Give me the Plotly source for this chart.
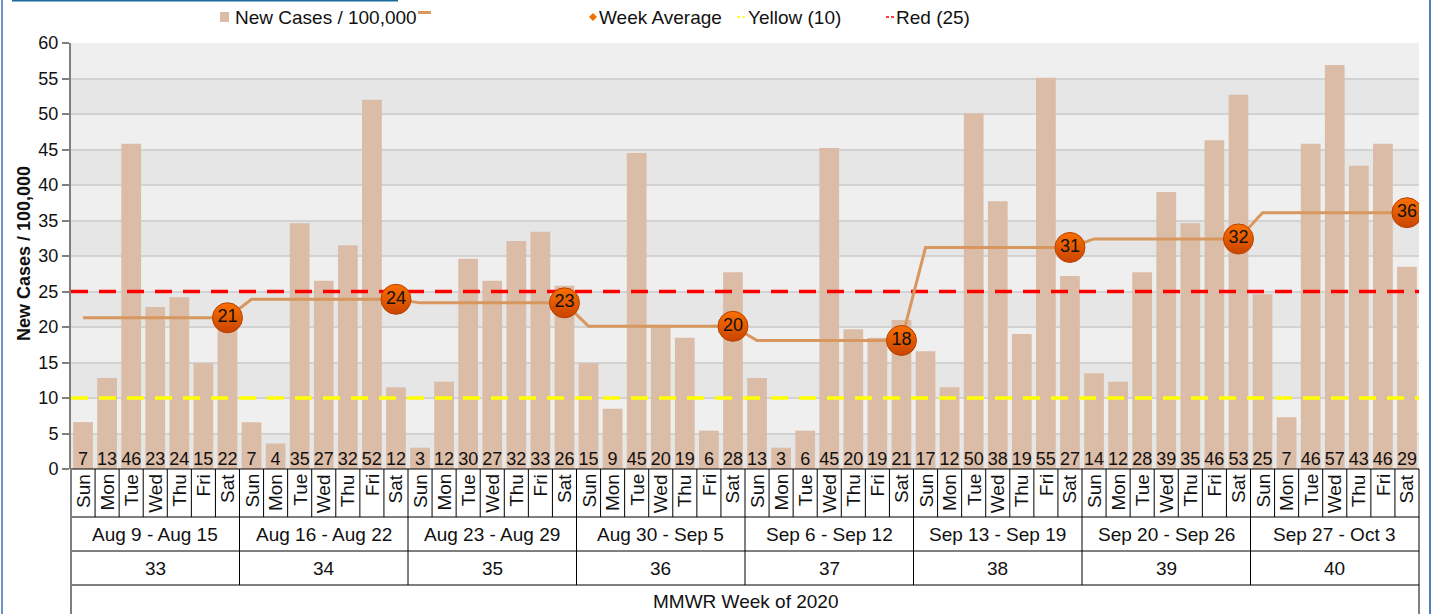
import plotly.graph_objects as go

# ---------------- data ----------------
days = ["Sun", "Mon", "Tue", "Wed", "Thu", "Fri", "Sat"]
week_ranges = ["Aug 9 - Aug 15", "Aug 16 - Aug 22", "Aug 23 - Aug 29", "Aug 30 - Sep 5",
               "Sep 6 - Sep 12", "Sep 13 - Sep 19", "Sep 20 - Sep 26", "Sep 27 - Oct 3"]
week_numbers = ["33", "34", "35", "36", "37", "38", "39", "40"]

new_cases = [
    6.6, 12.8, 45.8, 22.8, 24.2, 14.9, 21.8,
    6.6, 3.6, 34.6, 26.5, 31.5, 52.0, 11.5,
    3.0, 12.3, 29.6, 26.5, 32.1, 33.4, 25.8,
    14.9, 8.5, 44.5, 20.0, 18.5, 5.4, 27.7,
    12.8, 3.0, 5.4, 45.2, 19.7, 18.5, 21.0,
    16.6, 11.5, 50.1, 37.7, 19.0, 55.1, 27.2,
    13.5, 12.3, 27.7, 39.0, 34.6, 46.3, 52.7,
    24.6, 7.3, 45.8, 56.9, 42.7, 45.8, 28.5,
]
new_case_labels = [
    "7", "13", "46", "23", "24", "15", "22",
    "7", "4", "35", "27", "32", "52", "12",
    "3", "12", "30", "27", "32", "33", "26",
    "15", "9", "45", "20", "19", "6", "28",
    "13", "3", "6", "45", "20", "19", "21",
    "17", "12", "50", "38", "19", "55", "27",
    "14", "12", "28", "39", "35", "46", "53",
    "25", "7", "46", "57", "43", "46", "29",
]
week_avg = [21.3, 23.9, 23.4, 20.1, 18.1, 31.2, 32.4, 36.1]
week_avg_labels = ["21", "24", "23", "20", "18", "31", "32", "36"]
YELLOW_LEVEL = 10
RED_LEVEL = 25

# ---------------- layout geometry ----------------
W, H = 1432, 614
ML, MR, MT, MB = 71, 13, 43, 145
PW, PH = W - ML - MR, H - MT - MB


def px(xp):
    return (xp - ML) / PW


def py(yp):
    return (MT + PH - yp) / PH


FONT = "Liberation Sans, Arial, sans-serif"
TXT = 19
NUM = 18
n = len(new_cases)
xs = list(range(n))
day_of = [days[i % 7] for i in xs]

avg_y = [week_avg[i // 7] for i in xs]
is_sat = [d == "Sat" for d in day_of]
avg_text = [week_avg_labels[i // 7] if is_sat[i] else "" for i in xs]
avg_size = [30 if s else 0 for s in is_sat]
avg_line_w = [1 if s else 0 for s in is_sat]

fig = go.Figure()
fig.add_trace(go.Bar(x=xs, y=new_cases, marker=dict(color="#dbbca7", line=dict(width=0)),
                     name="New Cases / 100,000", showlegend=False, hoverinfo="y"))
fig.add_trace(go.Scatter(x=xs, y=[0] * n, mode="text", text=new_case_labels,
                         textposition="top center", textfont=dict(size=NUM, color="#111", family=FONT),
                         showlegend=False, hoverinfo="skip"))
fig.add_trace(go.Scatter(x=[-0.5, n - 0.5], y=[YELLOW_LEVEL, YELLOW_LEVEL], mode="lines",
                         line=dict(color="#ffff00", width=3.5, dash="17px,11px"),
                         name="Yellow (10)", showlegend=False, hoverinfo="skip"))
fig.add_trace(go.Scatter(x=[-0.5, n - 0.5], y=[RED_LEVEL, RED_LEVEL], mode="lines",
                         line=dict(color="#ff0000", width=3.5, dash="17px,11px"),
                         name="Red (25)", showlegend=False, hoverinfo="skip"))
fig.add_trace(go.Scatter(x=xs, y=avg_y, mode="lines+markers+text", text=avg_text,
                         textposition="middle center",
                         textfont=dict(size=NUM, color="#111", family=FONT),
                         line=dict(color="#d8975e", width=3),
                         marker=dict(size=avg_size, color="#fb7000", opacity=1,
                                     gradient=dict(type="vertical", color="#c94400"),
                                     line=dict(width=avg_line_w, color="#b84000")),
                         name="Week Average", showlegend=False, hoverinfo="y"))

shapes = []
# alternating background bands
for k in range(0, 60, 5):
    dark = (k // 5) % 2 == 0
    shapes.append(dict(type="rect", xref="paper", yref="y", x0=0, x1=1, y0=k, y1=k + 5,
                       fillcolor="#e6e6e6" if dark else "#efefef", line=dict(width=0),
                       layer="below"))

LINE_BLACK = dict(color="#000000", width=1)
y_day = py(517)
y_range = py(551)
y_week = py(585)
y_bottom = py(H + 5)
# horizontal table lines
for yy in (py(469), y_day, y_range, y_week):
    shapes.append(dict(type="line", xref="paper", yref="paper", x0=0, x1=1, y0=yy, y1=yy,
                       line=LINE_BLACK, layer="above"))
# day and week separators
for i in range(1, n):
    bot = y_week if i % 7 == 0 else y_day
    xe = i - 0.5
    shapes.append(dict(type="line", xref="x", yref="paper", x0=xe, x1=xe, y0=py(469), y1=bot,
                       line=LINE_BLACK, layer="above"))
# outer borders of the table
shapes.append(dict(type="line", xref="paper", yref="paper", x0=0, x1=0, y0=py(469), y1=y_bottom,
                   line=dict(color="#7f7f7f", width=2)))
shapes.append(dict(type="line", xref="paper", yref="paper", x0=1, x1=1, y0=py(469), y1=y_bottom,
                   line=LINE_BLACK))
# page frame decorations
shapes.append(dict(type="line", xref="paper", yref="paper", x0=px(12), x1=px(398), y0=py(0.5), y1=py(0.5),
                   line=dict(color="#1d6a9c", width=2)))
shapes.append(dict(type="line", xref="paper", yref="paper", x0=px(2), x1=px(2), y0=py(0), y1=py(H),
                   line=dict(color="#6f93c9", width=2)))
shapes.append(dict(type="line", xref="paper", yref="paper", x0=px(1430), x1=px(1430), y0=py(0), y1=py(H),
                   line=dict(color="#4f7fc1", width=2)))

annotations = []
# day labels (rotated)
for i in xs:
    annotations.append(dict(x=i, y=py(472), xref="x", yref="paper", text=day_of[i], textangle=-90,
                            showarrow=False, xanchor="center", yanchor="top",
                            font=dict(size=TXT, color="#111", family=FONT)))
# week range & number labels
for w in range(len(week_ranges)):
    xc = w * 7 + 3
    annotations.append(dict(x=xc, y=py(534), xref="x", yref="paper", text=week_ranges[w],
                            showarrow=False, xanchor="center", yanchor="middle",
                            font=dict(size=TXT, color="#111", family=FONT)))
    annotations.append(dict(x=xc, y=py(568), xref="x", yref="paper", text=week_numbers[w],
                            showarrow=False, xanchor="center", yanchor="middle",
                            font=dict(size=TXT, color="#111", family=FONT)))
annotations.append(dict(x=0.5, y=py(601), xref="paper", yref="paper", text="MMWR Week of 2020",
                        showarrow=False, xanchor="center", yanchor="middle",
                        font=dict(size=TXT, color="#111", family=FONT)))
# y axis title
annotations.append(dict(x=px(24), y=py(254), xref="paper", yref="paper",
                        text="<b>New Cases / 100,000</b>", textangle=-90, showarrow=False,
                        xanchor="center", yanchor="middle",
                        font=dict(size=18, color="#111", family=FONT)))

# custom legend
LY = py(17)
shapes.append(dict(type="rect", xref="paper", yref="paper", x0=px(220), x1=px(229), y0=py(22), y1=py(12),
                   fillcolor="#dbbca7", line=dict(width=0)))
annotations.append(dict(x=px(233), y=LY, xref="paper", yref="paper", text="New Cases / 100,000",
                        showarrow=False, xanchor="left", yanchor="middle",
                        font=dict(size=TXT, color="#111", family=FONT)))
shapes.append(dict(type="line", xref="paper", yref="paper", x0=px(418), x1=px(431), y0=py(12.5), y1=py(12.5),
                   line=dict(color="#d8975e", width=3)))
shapes.append(dict(type="path", xref="paper", yref="paper",
                   path=" ".join([f"M{px(589)},{py(17)}", f"L{px(593)},{py(13)}",
                                  f"L{px(597)},{py(17)}", f"L{px(593)},{py(21)} Z"]),
                   fillcolor="#f07000", line=dict(width=0)))
annotations.append(dict(x=px(597), y=LY, xref="paper", yref="paper", text="Week Average",
                        showarrow=False, xanchor="left", yanchor="middle",
                        font=dict(size=TXT, color="#111", family=FONT)))
shapes.append(dict(type="line", xref="paper", yref="paper", x0=px(737), x1=px(746), y0=LY, y1=LY,
                   line=dict(color="#ffff00", width=1.5, dash="3px,2px")))
annotations.append(dict(x=px(746), y=LY, xref="paper", yref="paper", text="Yellow (10)",
                        showarrow=False, xanchor="left", yanchor="middle",
                        font=dict(size=TXT, color="#111", family=FONT)))
shapes.append(dict(type="line", xref="paper", yref="paper", x0=px(886), x1=px(894), y0=LY, y1=LY,
                   line=dict(color="#ff0000", width=1.5, dash="3px,2px")))
annotations.append(dict(x=px(894), y=LY, xref="paper", yref="paper", text="Red (25)",
                        showarrow=False, xanchor="left", yanchor="middle",
                        font=dict(size=TXT, color="#111", family=FONT)))

fig.update_layout(
    width=W, height=H,
    margin=dict(l=ML, r=MR, t=MT, b=MB, pad=0),
    paper_bgcolor="#ffffff", plot_bgcolor="#efefef",
    bargap=0.18, showlegend=False,
    font=dict(family=FONT, size=18, color="#111"),
    shapes=shapes, annotations=annotations,
    xaxis=dict(range=[-0.5, n - 0.5], showticklabels=False, showgrid=False, zeroline=False,
               showline=False, ticks="", fixedrange=True),
    yaxis=dict(range=[0, 60], tickvals=list(range(0, 61, 5)), showgrid=True,
               gridcolor="#d2d2d2", gridwidth=1.5, zeroline=False, showline=True,
               linecolor="#7f7f7f", linewidth=2, ticks="outside", ticklen=7, tickcolor="#7f7f7f",
               tickwidth=1.5, tickfont=dict(size=NUM, color="#111", family=FONT), fixedrange=True),
)

fig.write_html("out.html", config={"displayModeBar": False},
               post_script="document.body.style.margin='0px';document.body.style.overflow='hidden';")
